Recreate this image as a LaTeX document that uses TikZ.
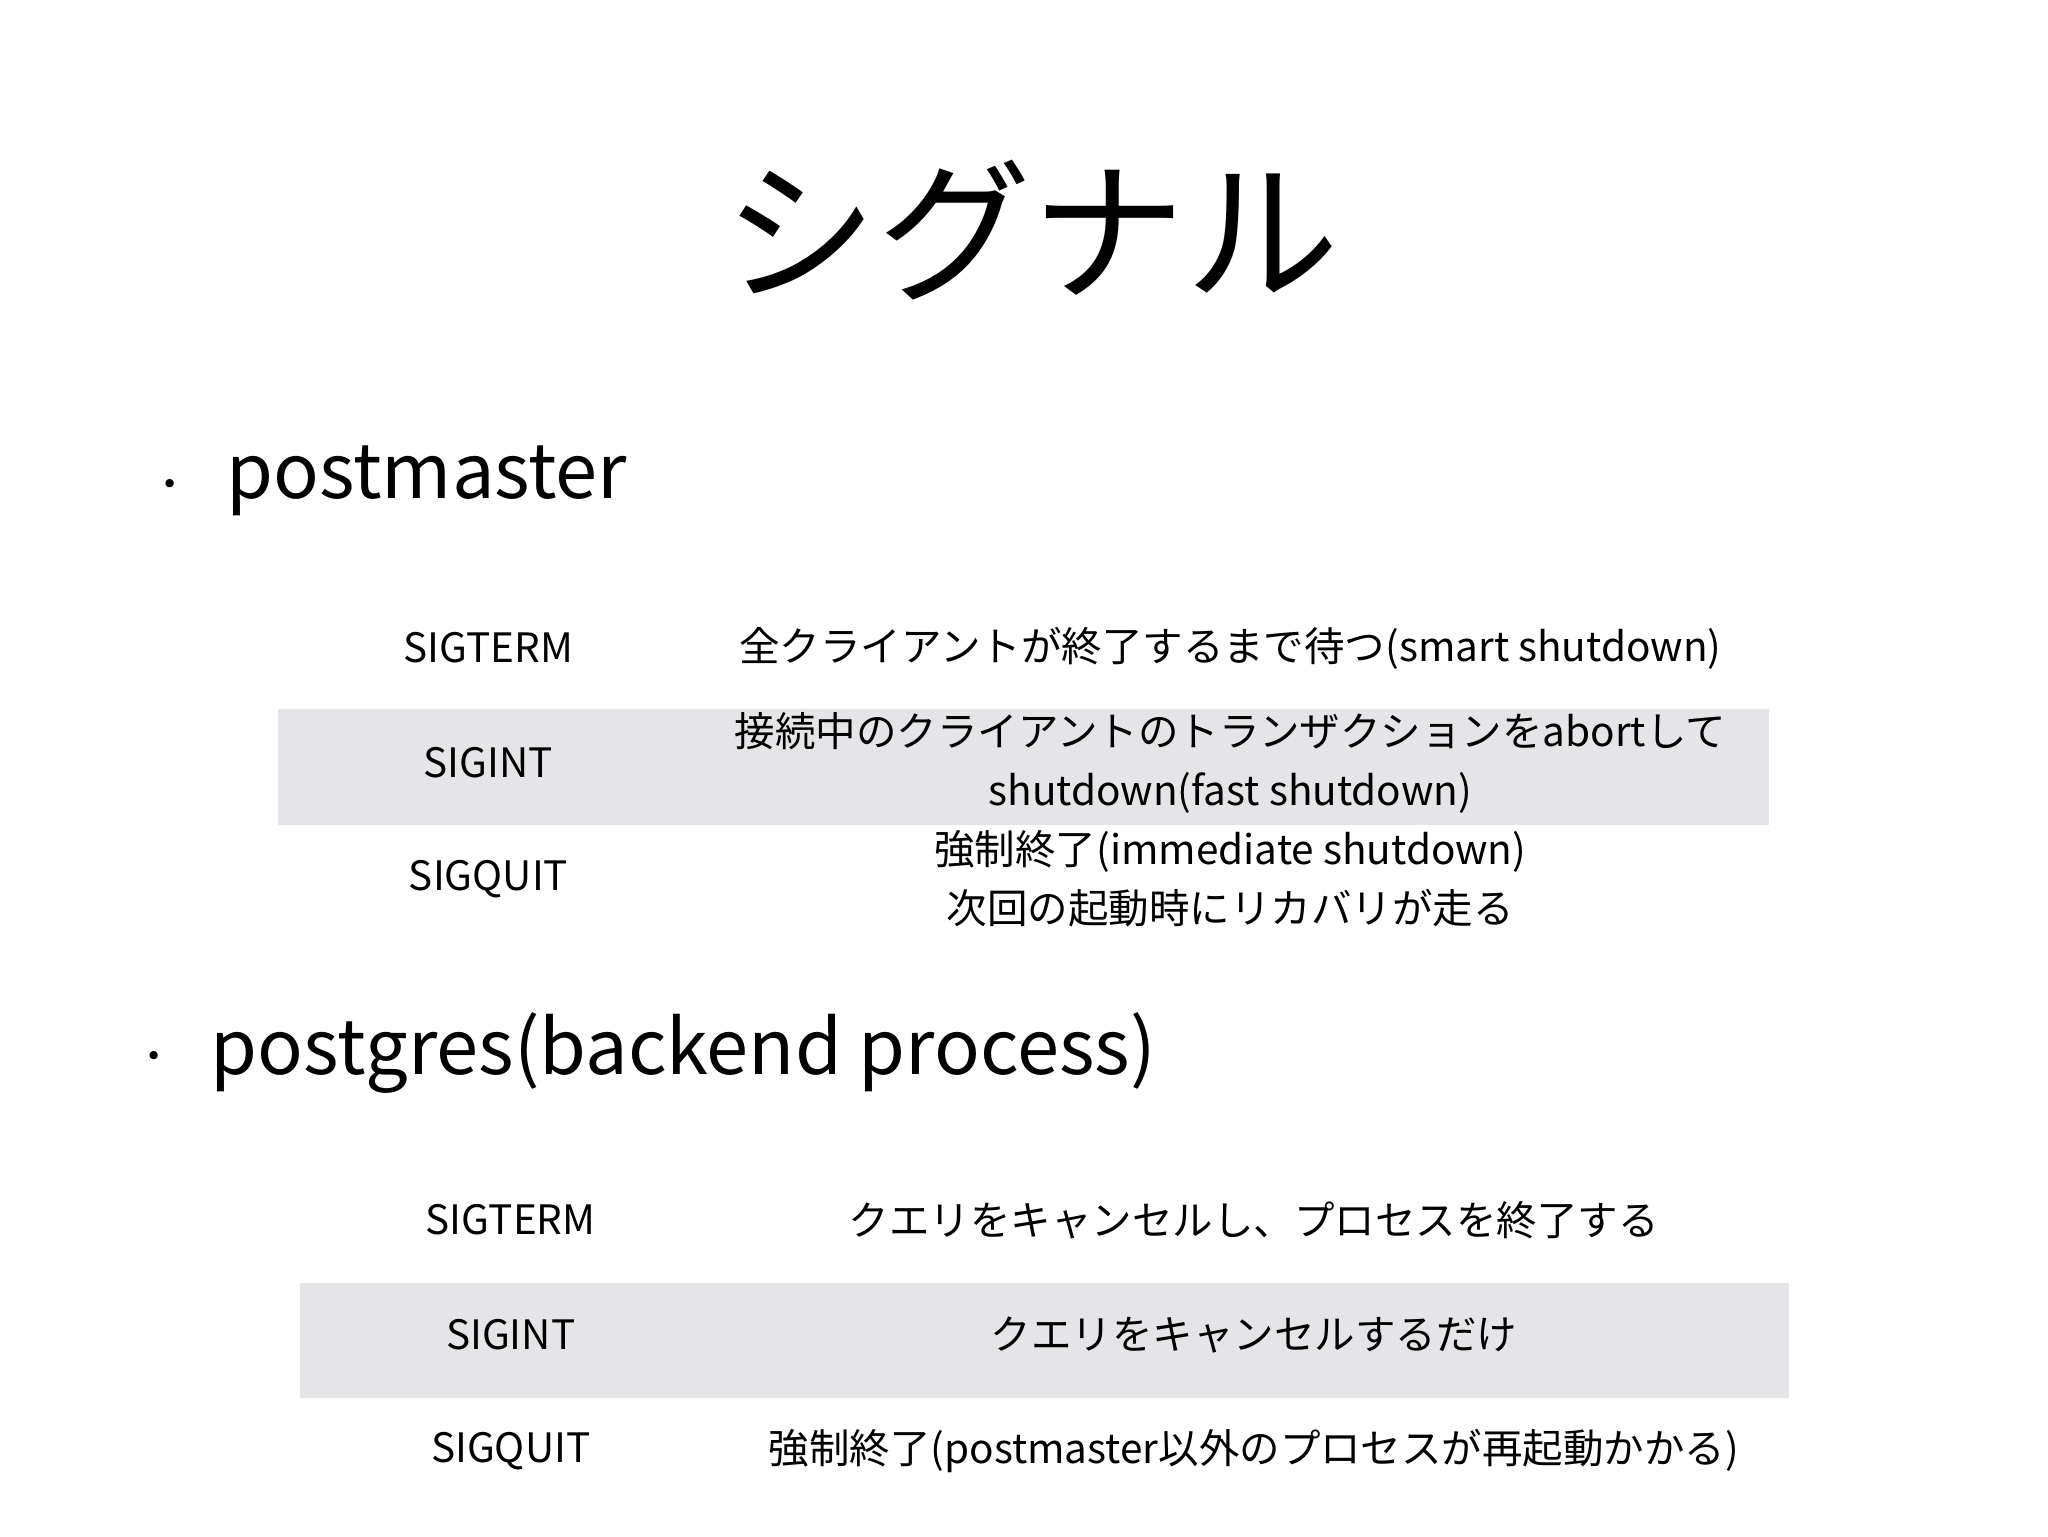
\documentclass[tikz,border=0pt]{standalone}
\usepackage{fontspec}
\setmainfont{Noto Sans CJK JP}
\definecolor{bandgray}{HTML}{E5E5E8}
\begin{document}
\begin{tikzpicture}[x=1pt,y=-1pt,
  cell/.style={anchor=center,align=center,font=\fontsize{31}{45}\selectfont},
  head/.style={anchor=west,font=\fontsize{58}{60}\selectfont},
  band/.style={fill=bandgray,draw=none}]
\useasboundingbox (0,0) rectangle (1568,1176);
\node[font=\fontsize{118}{120}\selectfont] (title) at (790,176) {シグナル};
\node[font=\fontsize{30}{30}\selectfont] (b1) at (130,374) {・};
\node[head] (h1) at (170,368) {postmaster};
\fill[band] (213,543) rectangle (1354,632);
\node[cell] (a1) at (374,496) {SIGTERM};
\node[cell] (a2) at (942,496) {全クライアントが終了するまで待つ(smart shutdown)};
\node[cell] (b1c) at (374,584) {SIGINT};
\node[cell] (b2) at (942,584) {接続中のクライアントのトランザクションをabortして\\shutdown(fast shutdown)};
\node[cell] (c1) at (374,673) {SIGQUIT};
\node[cell] (c2) at (942,673) {強制終了(immediate shutdown)\\次回の起動時にリカバリが走る};
\node[font=\fontsize{30}{30}\selectfont] (b2b) at (118,812) {・};
\node[head] (h2) at (158,806) {postgres(backend process)};
\fill[band] (230,982) rectangle (1370,1070);
\node[cell] (d1) at (391,934) {SIGTERM};
\node[cell] (d2) at (960,934) {クエリをキャンセルし、プロセスを終了する};
\node[cell] (e1) at (391,1022) {SIGINT};
\node[cell] (e2) at (960,1022) {クエリをキャンセルするだけ};
\node[cell] (f1) at (391,1111) {SIGQUIT};
\node[cell] (f2) at (960,1111) {強制終了(postmaster以外のプロセスが再起動かかる)};
\end{tikzpicture}
\end{document}
